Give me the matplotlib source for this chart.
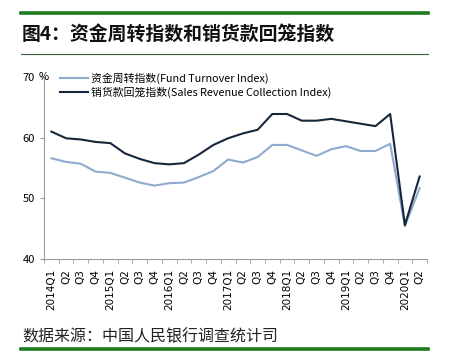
import matplotlib
matplotlib.use("Agg")
import matplotlib.pyplot as plt
from matplotlib.lines import Line2D

plt.rcParams['font.family'] = ['Noto Sans CJK SC', 'DejaVu Sans']

quarters = ["2014Q1", "Q2", "Q3", "Q4", "2015Q1", "Q2", "Q3", "Q4",
            "2016Q1", "Q2", "Q3", "Q4", "2017Q1", "Q2", "Q3", "Q4",
            "2018Q1", "Q2", "Q3", "Q4", "2019Q1", "Q2", "Q3", "Q4",
            "2020Q1", "Q2"]
fund_turnover = [56.6, 56.0, 55.7, 54.4, 54.2, 53.4, 52.6, 52.1,
                 52.5, 52.6, 53.5, 54.5, 56.4, 55.9, 56.8, 58.8,
                 58.8, 57.9, 57.0, 58.1, 58.6, 57.8, 57.8, 59.0,
                 45.4, 51.7]
sales_collection = [61.0, 59.9, 59.7, 59.3, 59.1, 57.4, 56.5, 55.8,
                    55.6, 55.8, 57.2, 58.8, 59.9, 60.7, 61.3, 63.9,
                    63.9, 62.8, 62.8, 63.1, 62.7, 62.3, 61.9, 63.9,
                    45.6, 53.6]
yticks = [40, 50, 60, 70]

light = "#8fa9cf"
dark = "#17273b"
green = "#1d7a1d"

fig = plt.figure(figsize=(4.49, 3.52), dpi=100)
W, H = 449, 352

def fx(x):
    return x / W

def fy(y):
    return 1 - y / H

# decorative lines
fig.add_artist(Line2D([fx(21), fx(428)], [fy(13), fy(13)], color=green, lw=2.6))
fig.add_artist(Line2D([fx(21), fx(428)], [fy(54), fy(54)], color="#3a5a3a", lw=0.8))
fig.add_artist(Line2D([fx(21), fx(428)], [fy(349), fy(349)], color=green, lw=2.6))

fig.text(fx(22), fy(34), "图4：资金周转指数和销货款回笼指数", fontsize=13.6,
         fontweight="bold", va="center", ha="left", color="#111111")
fig.text(fx(22), fy(337), "数据来源：中国人民银行调查统计司", fontsize=11.5,
         va="center", ha="left", color="#222222")

ax = fig.add_axes([fx(44), fy(259), fx(427) - fx(44), fy(77) - fy(259)])
x = list(range(len(quarters)))
ax.plot(x, fund_turnover, color=light, lw=1.5, label="资金周转指数(Fund Turnover Index)")
ax.plot(x, sales_collection, color=dark, lw=1.5, label="销货款回笼指数(Sales Revenue Collection Index)")

ax.set_xlim(-0.5, len(quarters) - 0.5)
ax.set_ylim(40, 70)
ax.set_yticks(yticks)
ax.set_yticklabels([str(v) for v in yticks], fontsize=8)
ax.set_xticks(x)
ax.set_xticklabels(quarters, rotation=90, fontsize=7.5, family="DejaVu Sans")
ax.tick_params(axis="x", length=0, pad=7)
ax.set_xticks([i - 0.5 for i in range(len(quarters) + 1)], minor=True)
ax.tick_params(axis="x", which="minor", length=3, color="#999999", direction="out")
ax.tick_params(axis="y", length=3, color="#999999", direction="out")
for s in ["top", "right"]:
    ax.spines[s].set_visible(False)
for s in ["left", "bottom"]:
    ax.spines[s].set_color("#999999")
    ax.spines[s].set_linewidth(0.8)

ax.text(-0.2, 70, "%", fontsize=8, va="center", ha="right")

ax.legend(loc="upper left", bbox_to_anchor=(0.03, 1.05), frameon=False,
          fontsize=7.8, handlelength=2.6, handletextpad=0.3, labelspacing=0.3,
          borderaxespad=0)

fig.savefig("out.png", dpi=100, facecolor="white")
